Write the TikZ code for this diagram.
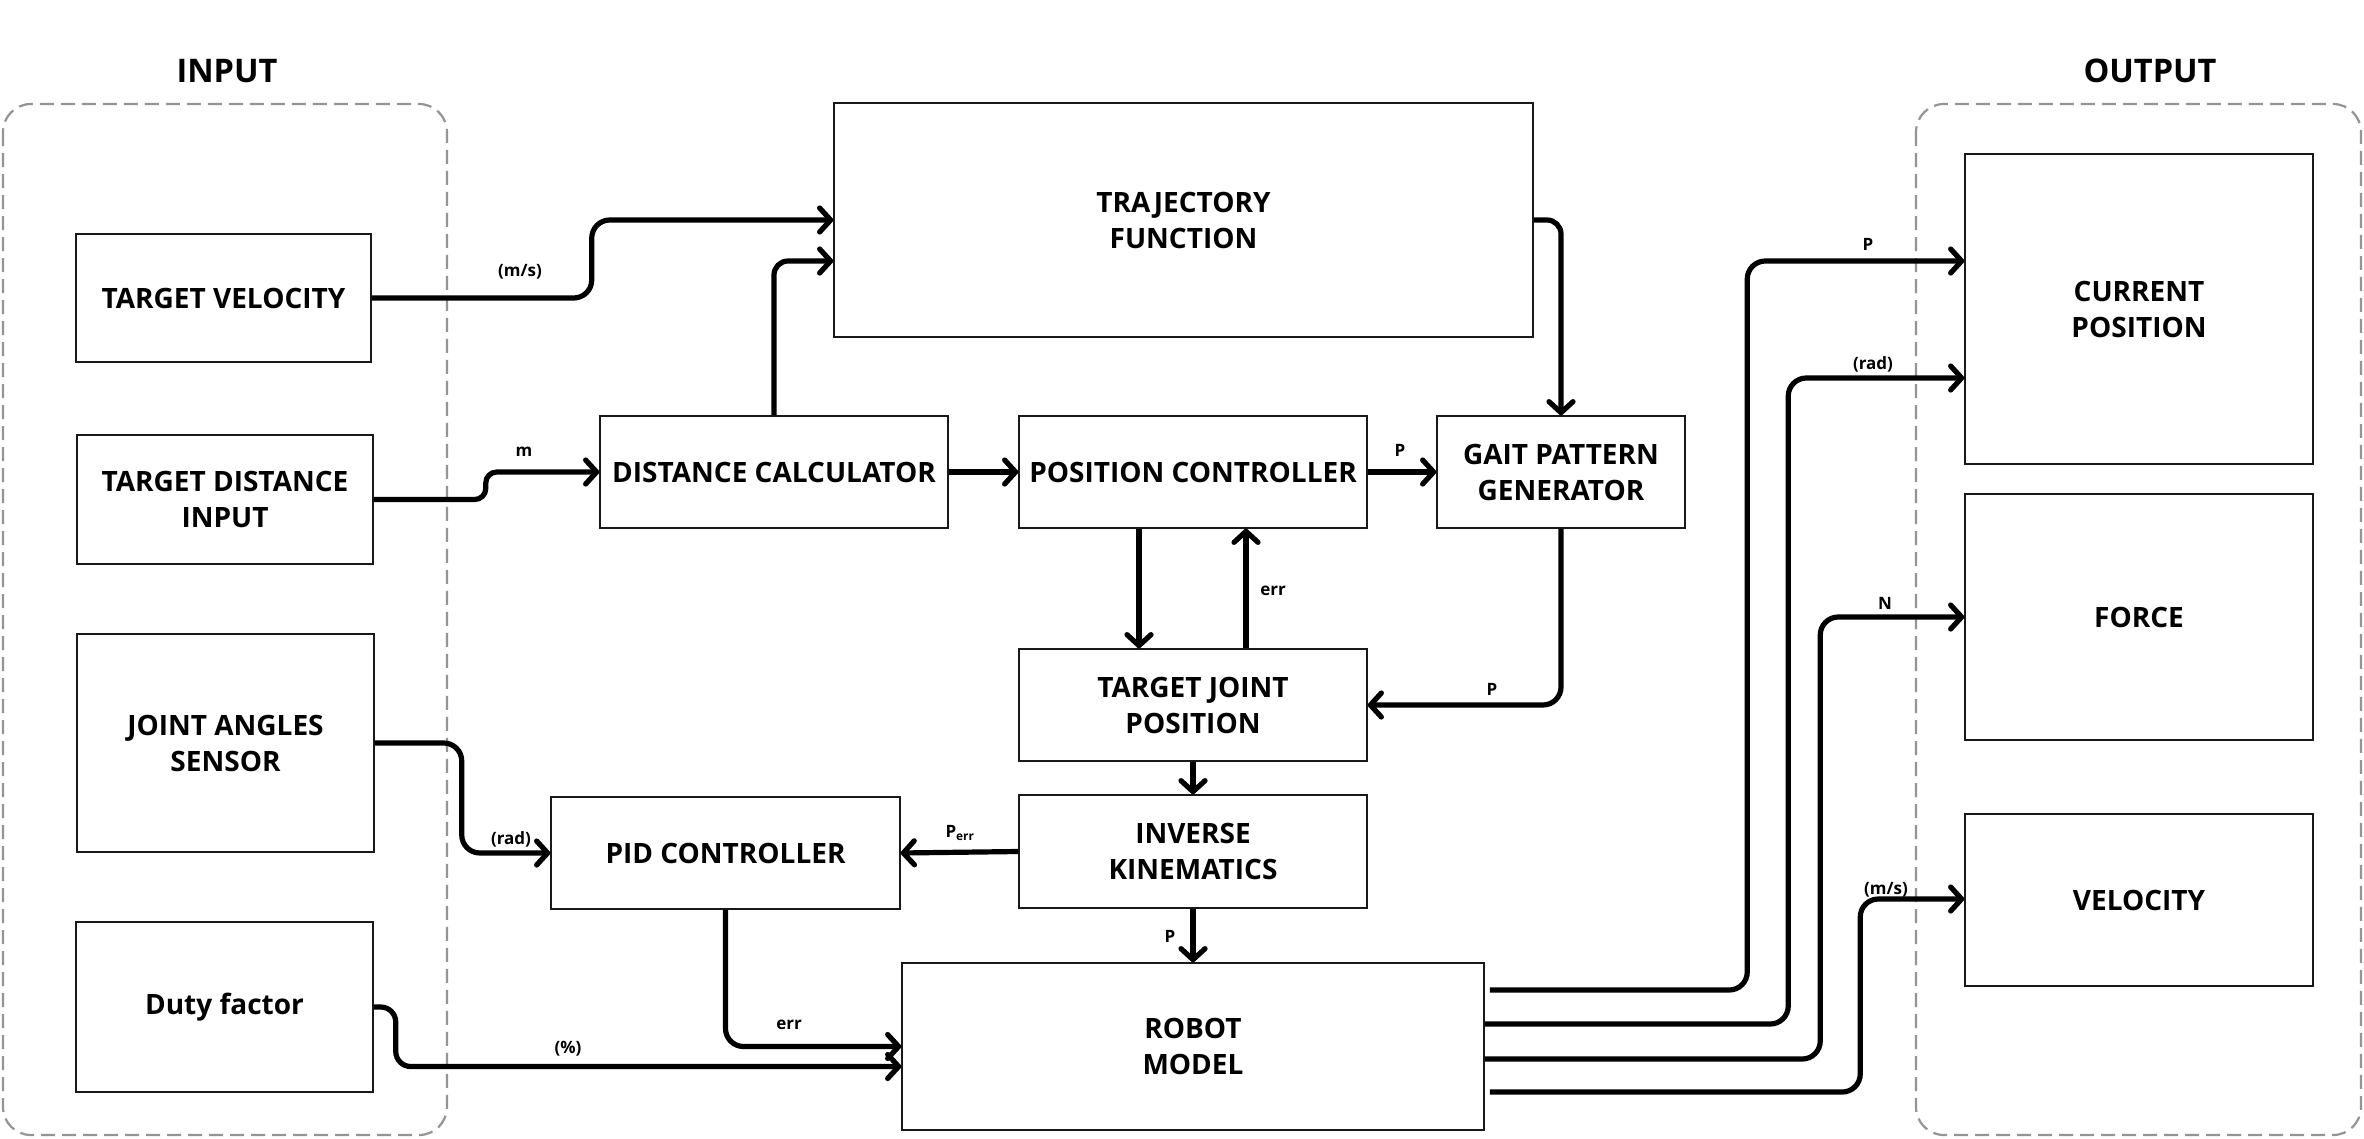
\documentclass[tikz,border=0pt]{standalone}
\usepackage{fontspec}
\setmainfont{Open Sans}
\usetikzlibrary{arrows.meta,calc}
\begin{document}
\begin{tikzpicture}[x=1pt,y=-1pt,
  box/.style={draw=black!90,line width=1.5pt,fill=white,align=center,inner sep=0pt,
    font=\fontsize{28}{36}\selectfont\bfseries},
  grp/.style={draw=black!42,line width=2.2pt,dash pattern=on 14pt off 7pt,rounded corners=28pt},
  conn/.style={line width=5.2pt,rounded corners=18pt,
    -{Straight Barb[length=11pt,width=24pt,round]}},
  lbl/.style={font=\fontsize{17}{20}\selectfont\bfseries,inner sep=0pt},
  ttl/.style={font=\fontsize{32.5}{38}\selectfont\bfseries,inner sep=0pt}]
\useasboundingbox (0,0) rectangle (2364,1138);
\fill[white] (0,0) rectangle (2364,1138);
% groups
\draw[grp] (3,104) rectangle (447,1135);
\draw[grp] (1916,104) rectangle (2361,1135);
\node[ttl] (tin) at (227,71) {INPUT};
\node[ttl] (tout) at (2150,71) {OUTPUT};
% input boxes
\node[box,minimum width=295pt,minimum height=128pt] (TV) at (223.5,298) {TARGET VELOCITY};
\node[box,minimum width=296pt,minimum height=129pt] (TDI) at (225,499.5) {TARGET DISTANCE\\INPUT};
\node[box,minimum width=297pt,minimum height=218pt] (JAS) at (225.5,743) {JOINT ANGLES\\SENSOR};
\node[box,minimum width=297pt,minimum height=170pt] (DF) at (224.5,1007) {Duty factor};
% middle
\node[box,minimum width=699pt,minimum height=234pt] (TF) at (1183.5,220) {TRAJECTORY\\FUNCTION};
\node[box,minimum width=348pt,minimum height=112pt] (DC) at (774,472) {DISTANCE CALCULATOR};
\node[box,minimum width=348pt,minimum height=112pt] (PC) at (1193,472) {POSITION CONTROLLER};
\node[box,minimum width=248pt,minimum height=112pt] (GPG) at (1561,472) {GAIT PATTERN\\GENERATOR};
\node[box,minimum width=348pt,minimum height=112pt] (TJP) at (1193,705) {TARGET JOINT\\POSITION};
\node[box,minimum width=348pt,minimum height=113pt] (IK) at (1193,851.5) {INVERSE\\KINEMATICS};
\node[box,minimum width=349pt,minimum height=112pt] (PID) at (725.5,853) {PID CONTROLLER};
\node[box,minimum width=582pt,minimum height=167pt] (RM) at (1193,1046.5) {ROBOT\\MODEL};
% outputs
\node[box,minimum width=348pt,minimum height=310pt] (CP) at (2139,309) {CURRENT\\POSITION};
\node[box,minimum width=348pt,minimum height=246pt] (FO) at (2139,617) {FORCE};
\node[box,minimum width=348pt,minimum height=172pt] (VE) at (2139,900) {VELOCITY};
% connectors
\draw[conn] (TV.east) -- ++(220,0) |- (TF.west);
\draw[conn,rounded corners=14pt] (DC.north) |- ($(TF.west)+(0,41)$);
\draw[conn,rounded corners=11pt] (TDI.east) -- ++(112,0) |- (DC.west);
\draw[conn] (DC.east) -- (PC.west);
\draw[conn] (PC.east) -- (GPG.west);
\draw[conn,rounded corners=14pt] (TF.east) -| (GPG.north);
\draw[conn] ($(PC.south)+(-54,0)$) -- ($(TJP.north)+(-54,0)$);
\draw[conn] ($(TJP.north)+(53,0)$) -- ($(PC.south)+(53,0)$);
\draw[conn] (GPG.south) |- (TJP.east);
\draw[conn] (TJP.south) -- (IK.north);
\draw[conn] (IK.west) -- (PID.east);
\draw[conn] (IK.south) -- (RM.north);
\draw[conn] (JAS.east) -- ++(87,0) |- (PID.west);
\draw[conn] (PID.south) |- (RM.west);
\draw[conn,rounded corners=15pt] (DF.east) -- ++(22,0) |- ($(RM.west)+(0,20)$);
\draw[conn] ($(RM.east)+(5,-56.5)$) -| ($(CP.west)+(-217,-48)$) -- ($(CP.west)+(0,-48)$);
\draw[conn] ($(RM.east)+(0,-22.5)$) -| ($(CP.west)+(-176,69)$) -- ($(CP.west)+(0,69)$);
\draw[conn] ($(RM.east)+(0,12.5)$) -| ($(FO.west)+(-144,0)$) -- (FO.west);
\draw[conn] ($(RM.east)+(5,45.5)$) -| ($(VE.west)+(-104,-1)$) -- ($(VE.west)+(0,-1)$);
% labels
\node[lbl] (l1) at (520,272) {(m/s)};
\node[lbl] (l2) at (524,452) {m};
\node[lbl] (l3) at (1400,450) {P};
\node[lbl] (l4) at (1273,591) {err};
\node[lbl] (l5) at (1492,689) {P};
\node[lbl] (l6) at (960,833) {P\textsubscript{err}};
\node[lbl] (l7) at (1170,936) {P};
\node[lbl] (l8) at (511,839) {(rad)};
\node[lbl] (l9) at (789,1025) {err};
\node[lbl] (l10) at (568,1049) {(\%)};
\node[lbl] (l11) at (1868,244) {P};
\node[lbl] (l12) at (1873,364) {(rad)};
\node[lbl] (l13) at (1885,603) {N};
\node[lbl] (l14) at (1886,890) {(m/s)};
\end{tikzpicture}
\end{document}
